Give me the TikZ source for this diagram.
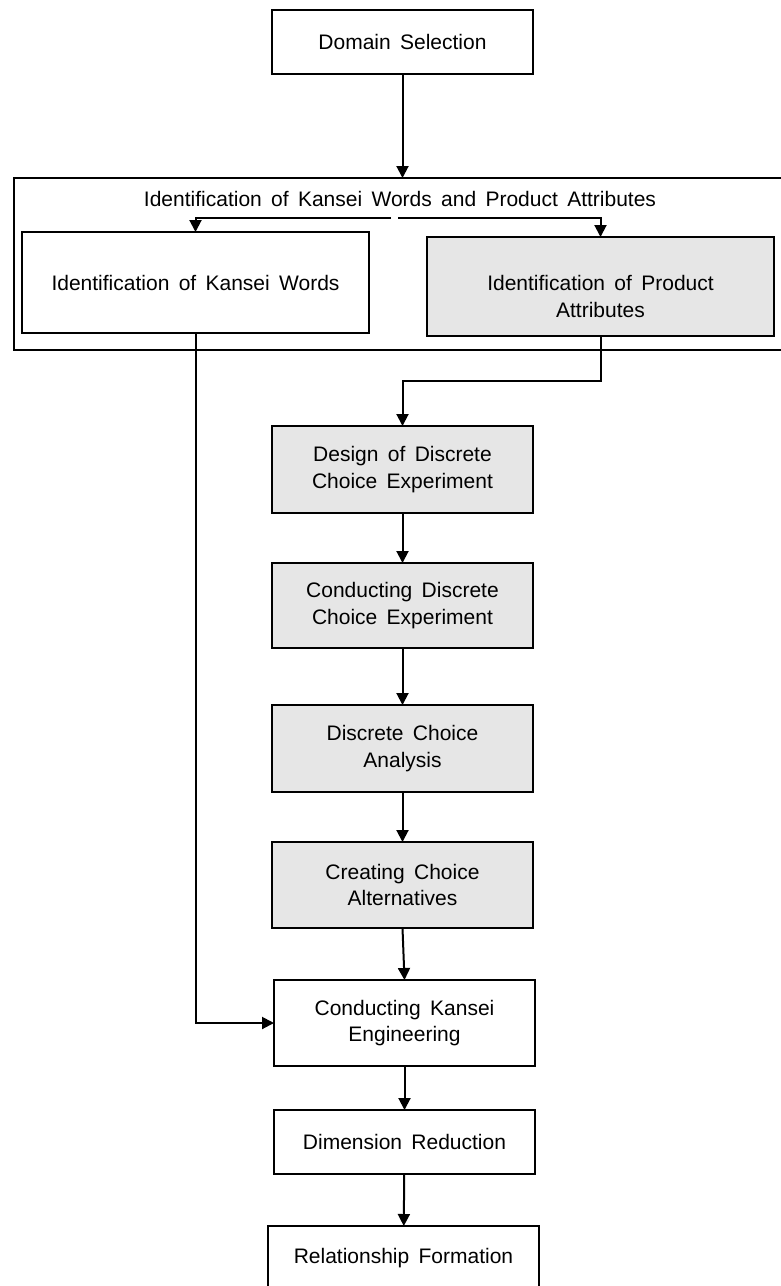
\documentclass[tikz,border=0pt]{standalone}
\usepackage{fontspec}
\setmainfont{Liberation Sans}[WordSpace=1.6]
\usetikzlibrary{arrows.meta}
\definecolor{boxgrey}{HTML}{E6E6E6}
\tikzset{
  wh/.style 2 args={minimum width=#1*0.75pt, minimum height=#2*0.75pt},
  box/.style={draw=black, line width=1.5pt, fill=white, inner sep=0pt, outer sep=0pt,
    align=center, font=\fontsize{15.75pt}{20pt}\selectfont},
  greybox/.style={box, fill=boxgrey},
  lbl/.style={inner sep=0pt, align=center, font=\fontsize{15.75pt}{20pt}\selectfont},
  arr/.style={line width=1.5pt, -{Triangle[length=9pt,width=9pt]}},
}
\begin{document}
\begin{tikzpicture}[x=0.75pt, y=-0.75pt]
\useasboundingbox (0,0) rectangle (781,1286);
\clip (0,0) rectangle (781,1286);

% top step
\node[box, wh={261}{64}] (dom) at (402.5,42) {Domain Selection};

% grouping frame with its two sub-steps
\node[box, fill=none, wh={786}{172}] (outer) at (407,264) {};
\node[lbl] (title) at (400,199) {Identification of Kansei Words and Product Attributes};
\node[box, wh={347}{101}] (kw) at (195.5,282.5) {Identification of Kansei Words};
\node[greybox, wh={347}{99}] (pa) at (600.5,286.5) {};
\node[lbl] (patext) at (600.5,296.5) {Identification of Product\\Attributes};

% discrete choice chain
\node[greybox, wh={261}{87}] (dde) at (402.5,469.5) {Design of Discrete\\Choice Experiment};
\node[greybox, wh={261}{85}] (cde) at (402.5,605.5) {Conducting Discrete\\Choice Experiment};
\node[greybox, wh={261}{87}] (dca) at (402.5,748.5) {Discrete Choice\\Analysis};
\node[greybox, wh={261}{86}] (cca) at (402.5,885) {Creating Choice\\Alternatives};

% final steps
\node[box, wh={261}{86}] (cke) at (404.5,1023) {Conducting Kansei\\Engineering};
\node[box, wh={261}{64}] (dr) at (404.5,1142) {Dimension Reduction};
\node[box, wh={271}{64}] (rf) at (403.5,1258) {Relationship Formation};

% split points under the frame title
\coordinate (splitL) at (391,218);
\coordinate (splitR) at (398,218);

% connectors
\draw[arr] (dom.south) -- (dom.south |- outer.north);
\draw[arr] (splitL) -| (kw.north);
\draw[arr] (splitR) -| (pa.north);
\draw[arr] (pa.south) -- ++(0,45) -| (dde.north);
\draw[arr] (dde) -- (cde);
\draw[arr] (cde) -- (dca);
\draw[arr] (dca) -- (cca);
\draw[arr] (cca.south) -- (cke.north);
\draw[arr] (cke) -- (dr);
\draw[arr] (dr) -- (rf);
\draw[arr] (kw.south) |- (cke.west);
\end{tikzpicture}
\end{document}
